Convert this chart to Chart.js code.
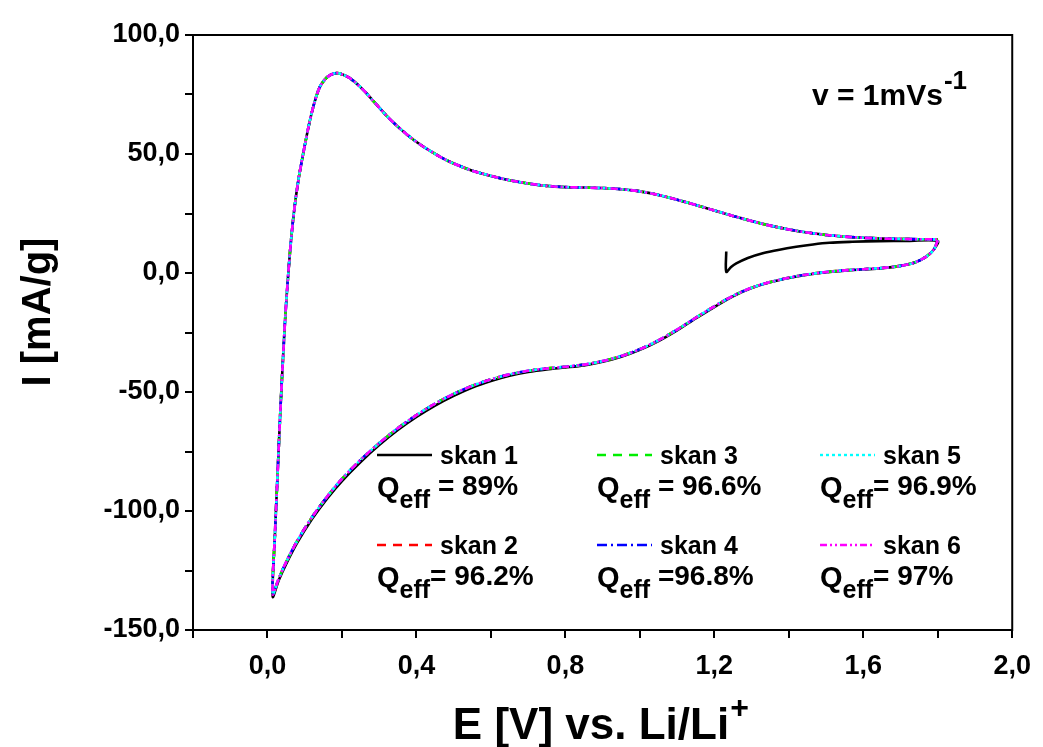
<!DOCTYPE html>
<html>
<head>
<meta charset="utf-8">
<script src="https://cdn.jsdelivr.net/npm/chart.js@4.4.0/dist/chart.umd.min.js"></script>
<style>
html,body{margin:0;padding:0;background:#fff;}
#wrap{width:1043px;height:747px;}
</style>
</head>
<body>
<div id="wrap"><canvas id="c" width="1043" height="747"></canvas></div>
<script>
// ---- data ----
const xTicks = [-0.2, 0.0, 0.2, 0.4, 0.6, 0.8, 1.0, 1.2, 1.4, 1.6, 1.8, 2.0];
const yTicks = [-150, -125, -100, -75, -50, -25, 0, 25, 50, 75, 100];

// scan 1 : start at OCV (~1.23 V), sweep to 1.8 V, cathodic branch down to 0.01 V, anodic branch back
const scan1E = [1.232, 1.232, 1.245, 1.259, 1.29, 1.33, 1.375, 1.42, 1.465, 1.509, 1.57, 1.643, 1.72, 1.80,
  1.79, 1.77, 1.74, 1.70, 1.65, 1.60, 1.55, 1.50, 1.45, 1.40, 1.35, 1.30, 1.25, 1.20, 1.15, 1.10, 1.05, 1.00, 0.95, 0.90, 0.85, 0.80, 0.75, 0.70, 0.65, 0.60, 0.55, 0.50, 0.45, 0.40, 0.35, 0.30, 0.25, 0.20, 0.16, 0.12, 0.08, 0.05, 0.03, 0.014,
  0.020, 0.027, 0.034, 0.041, 0.048, 0.056, 0.064, 0.073, 0.084, 0.097, 0.111, 0.125, 0.140, 0.155, 0.170, 0.186, 0.20, 0.22, 0.24, 0.26, 0.28, 0.30, 0.32, 0.35, 0.38, 0.41, 0.44, 0.47, 0.50, 0.55, 0.60, 0.65, 0.70, 0.75, 0.80, 0.85, 0.90, 0.95, 1.00, 1.05, 1.10, 1.15, 1.20, 1.25, 1.30, 1.35, 1.40, 1.45, 1.50, 1.55, 1.60, 1.65, 1.70, 1.75, 1.80];
const scan1I = [9, 0.5, 2.5, 4, 6.3, 8.3, 9.8, 11, 12, 12.7, 13.1, 13.4, 13.5, 13.5,
  10, 7, 4.5, 3.0, 2.0, 1.5, 1.0, 0.3, -0.7, -2.1, -3.9, -6.3, -9.8, -14.3, -19.1, -24.1, -28.6, -32.3, -35.2, -37.3, -38.8, -39.7, -40.5, -41.6, -43.2, -45.4, -48.1, -51.6, -55.7, -60.5, -66.0, -72.3, -79.4, -87.4, -94.8, -103.3, -113.3, -122.3, -129.2, -136,
  -110, -85, -60, -38, -18, 0, 15, 28, 40, 51, 62, 71, 78, 81.5, 83.3, 84, 83.5, 82, 79.5, 76.5, 73, 69.5, 66, 61.5, 57.5, 54, 51, 48.3, 46, 43, 40.8, 39, 37.6, 36.6, 36.1, 35.9, 35.7, 35.2, 34.3, 32.8, 30.8, 28.6, 26.3, 24, 21.8, 19.9, 18.3, 17, 16, 15.3, 14.8, 14.5, 14.3, 14.2, 14.1];

// scans 2-6 lie on top of each other: cathodic branch from 1.8 V, anodic branch back to 1.8 V
const cycleE = [1.80, 1.79, 1.77, 1.74, 1.70, 1.65, 1.60, 1.55, 1.50, 1.45, 1.40, 1.35, 1.30, 1.25, 1.20, 1.15, 1.10, 1.05, 1.00, 0.95, 0.90, 0.85, 0.80, 0.75, 0.70, 0.65, 0.60, 0.55, 0.50, 0.45, 0.40, 0.35, 0.30, 0.25, 0.20, 0.16, 0.12, 0.08, 0.05, 0.03, 0.014,
  0.020, 0.027, 0.034, 0.041, 0.048, 0.056, 0.064, 0.073, 0.084, 0.097, 0.111, 0.125, 0.140, 0.155, 0.170, 0.186, 0.20, 0.22, 0.24, 0.26, 0.28, 0.30, 0.32, 0.35, 0.38, 0.41, 0.44, 0.47, 0.50, 0.55, 0.60, 0.65, 0.70, 0.75, 0.80, 0.85, 0.90, 0.95, 1.00, 1.05, 1.10, 1.15, 1.20, 1.25, 1.30, 1.35, 1.40, 1.45, 1.50, 1.55, 1.60, 1.65, 1.70, 1.75, 1.80];
const cycleI = [13.8, 10, 7, 4.5, 3.0, 2.1, 1.6, 1.1, 0.4, -0.6, -2.0, -3.8, -6.2, -9.6, -14.0, -18.8, -23.8, -28.3, -32.0, -34.9, -37.0, -38.5, -39.4, -40.1, -41.1, -42.6, -44.7, -47.4, -50.8, -54.9, -59.7, -65.2, -71.5, -78.5, -86.5, -94, -102.5, -112.5, -121.5, -128.5, -135,
  -110, -85, -60, -38, -18, 0, 15, 28, 40, 51, 62, 71, 78, 81.5, 83.3, 84, 83.5, 82, 79.5, 76.5, 73, 69.5, 66, 61.5, 57.5, 54, 51, 48.3, 46, 43, 40.8, 39, 37.6, 36.6, 36.1, 35.9, 35.7, 35.2, 34.3, 32.8, 30.8, 28.6, 26.3, 24, 21.8, 19.9, 18.3, 17, 16, 15.3, 14.8, 14.5, 14.3, 14.2, 14.1];

const scanNames = ['skan 1', 'skan 2', 'skan 3', 'skan 4', 'skan 5', 'skan 6'];
const qeffValues = [' = 89%', '= 96.2%', ' = 96.6%', ' =96.8%', '= 96.9%', '= 97%'];

// ---- styles ----
const colors = ['#000000', '#ff0000', '#00ee00', '#0000ff', '#00ffff', '#ff00ff'];
const dashes = [[], [9, 7], [9, 7], [10, 4, 2, 4], [3, 3], [7, 3, 2, 3, 2, 3]];
const FONT = 'Arial, "Liberation Sans", sans-serif';

function pts(E, I) { return E.map((e, i) => ({x: e, y: I[i]})); }

const datasets = scanNames.map((name, k) => ({
  label: name,
  data: k === 0 ? pts(scan1E, scan1I) : pts(cycleE, cycleI),
  borderColor: colors[k],
  borderDash: dashes[k],
  borderWidth: 2.6,
  showLine: true,
  pointRadius: 0,
  tension: 0.3,
  fill: false,
  order: 6 - k
}));

function fmt(v) { return v.toFixed(1).replace('.', ','); }

const decor = {
  id: 'decor',
  afterDraw(chart) {
    const ctx = chart.ctx;
    const a = chart.chartArea;
    ctx.save();
    ctx.strokeStyle = '#000';
    ctx.lineWidth = 2;
    ctx.strokeRect(a.left, a.top, a.right - a.left, a.bottom - a.top);
    ctx.fillStyle = '#000';
    ctx.textBaseline = 'alphabetic';

    // y title
    ctx.save();
    ctx.translate(50, 312);
    ctx.rotate(-Math.PI / 2);
    ctx.textAlign = 'center';
    ctx.font = 'bold 40px ' + FONT;
    ctx.fillText('I [mA/g]', 0, 0);
    ctx.restore();

    // x title with superscript
    ctx.textAlign = 'left';
    ctx.font = 'bold 44px ' + FONT;
    const xt = 'E [V] vs. Li/Li';
    const w = ctx.measureText(xt).width;
    const x0 = 600 - (w + 18) / 2;
    ctx.fillText(xt, x0, 739);
    ctx.font = 'bold 32px ' + FONT;
    ctx.fillText('+', x0 + w + 1, 718);

    // scan rate annotation
    ctx.font = 'bold 30px ' + FONT;
    const vt = 'v = 1mVs';
    ctx.fillText(vt, 812, 105);
    const vw = ctx.measureText(vt).width;
    ctx.font = 'bold 26px ' + FONT;
    ctx.fillText('-1', 812 + vw + 1, 89);

    // legend
    const colX = [377, 597, 820];
    const rowY = [455, 545];
    for (let k = 0; k < 6; k++) {
      const col = Math.floor(k / 2), row = k % 2;
      const lx = colX[col], ly = rowY[row];
      ctx.save();
      ctx.strokeStyle = colors[k];
      ctx.setLineDash(dashes[k]);
      ctx.lineWidth = 2.4;
      ctx.beginPath();
      ctx.moveTo(lx, ly);
      ctx.lineTo(lx + 55, ly);
      ctx.stroke();
      ctx.restore();
      ctx.font = 'bold 25px ' + FONT;
      ctx.fillText(scanNames[k], lx + 63, ly + 9);
      const qy = ly + 42;
      ctx.font = 'bold 29px ' + FONT;
      ctx.fillText('Q', lx, qy);
      const qw = ctx.measureText('Q').width;
      ctx.font = 'bold 25px ' + FONT;
      ctx.fillText('eff', lx + qw, qy + 11);
      const ew = ctx.measureText('eff').width;
      ctx.font = 'bold 28px ' + FONT;
      ctx.fillText(qeffValues[k], lx + qw + ew, qy - 2);
    }
    ctx.restore();
  }
};

new Chart(document.getElementById('c'), {
  type: 'scatter',
  data: { datasets },
  options: {
    responsive: false,
    animation: false,
    devicePixelRatio: 1,
    layout: { padding: { left: 0, top: 35, right: 30, bottom: 0 } },
    plugins: { legend: { display: false }, tooltip: { enabled: false }, title: { display: false } },
    scales: {
      x: {
        type: 'linear',
        min: xTicks[0], max: xTicks[xTicks.length - 1],
        afterFit(s) { s.height = 117; },
        afterBuildTicks(s) { s.ticks = xTicks.map(v => ({value: v})); },
        ticks: {
          autoSkip: false, maxRotation: 0,
          color: '#000', padding: 12,
          font: { family: FONT, size: 27, weight: 'bold' },
          callback(v) { const r = Math.round(v * 10); return (r % 4 === 0) ? fmt(r / 10) : ''; }
        },
        grid: { display: true, drawOnChartArea: false, drawTicks: true, tickLength: 8, color: '#000', lineWidth: 2 },
        border: { display: true, color: '#000', width: 2 }
      },
      y: {
        type: 'linear',
        min: yTicks[0], max: yTicks[yTicks.length - 1],
        afterFit(s) { s.width = 193; },
        afterBuildTicks(s) { s.ticks = yTicks.map(v => ({value: v})); },
        ticks: {
          autoSkip: false, color: '#000', padding: 5,
          font: { family: FONT, size: 27, weight: 'bold' },
          callback(v) { return (v % 50 === 0) ? fmt(v) : ''; }
        },
        grid: { display: true, drawOnChartArea: false, drawTicks: true, tickLength: 8, color: '#000', lineWidth: 2 },
        border: { display: true, color: '#000', width: 2 }
      }
    }
  },
  plugins: [decor]
});
</script>
</body>
</html>
